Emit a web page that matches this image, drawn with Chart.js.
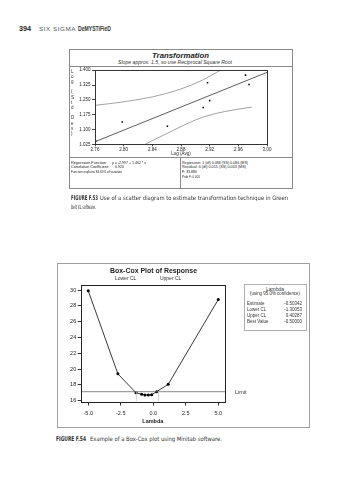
<!DOCTYPE html>
<html>
<head>
<meta charset="utf-8">
<script src="https://cdn.jsdelivr.net/npm/chart.js@4.4.0/dist/chart.umd.min.js"></script>
<style>
  html, body { margin: 0; padding: 0; background: #fff; }
  body { width: 364px; height: 480px; position: relative; overflow: hidden;
         font-family: "Liberation Sans", Arial, sans-serif; color: #222; }
  .t { position: absolute; white-space: nowrap; line-height: 1; transform-origin: 0 50%; }
  .box { position: absolute; box-sizing: border-box; }
  .hl { position: absolute; height: 0; border-top: 1px solid #8a8a8a; }
  .vl { position: absolute; width: 0; border-left: 1px solid #8a8a8a; }
  canvas { position: absolute; }
</style>
</head>
<body>

<!-- figure F.53 frame -->
<div class="box" style="left:69px;top:49px;width:224px;height:140px;border:1px solid #8a8a8a;"></div>
<div class="hl" style="left:69px;top:66px;width:224px;"></div>
<div class="hl" style="left:69px;top:157px;width:224px;"></div>
<div class="vl" style="left:180px;top:157px;height:31px;"></div>
<canvas id="transChart" width="223" height="91" style="left:69px;top:66px;"></canvas>

<!-- figure F.54 frame -->
<div class="box" style="left:57px;top:263px;width:253px;height:165px;border:1px solid #a0a0a0;"></div>
<div class="box" style="left:244px;top:284px;width:63px;height:47px;border:1px solid #b0b0b0;"></div>
<canvas id="boxCoxChart" width="200" height="158" style="left:60px;top:272px;"></canvas>

<script>
// ---- transformation scatter (Log Avg vs Log Std Dev) ----
const logAvg = [2.761, 2.798, 2.861, 2.917, 2.911, 2.920, 2.970, 2.975];
const logStd = [1.042, 1.138, 1.116, 1.336, 1.211, 1.246, 1.375, 1.328];
const fitX = [2.76, 3.00];
const fitY = [1.038, 1.389];
const upperX = [2.76, 2.80, 2.84, 2.88, 2.91, 2.935];
const upperY = [1.222, 1.240, 1.265, 1.305, 1.350, 1.400];
const lowerX = [2.830, 2.870, 2.911, 2.972, 2.979];
const lowerY = [1.025, 1.097, 1.163, 1.210, 1.213];
const transXTicks = [2.76, 2.80, 2.84, 2.88, 2.92, 2.96, 3.00];
const transYTicks = [1.025, 1.100, 1.175, 1.250, 1.325, 1.400];

// ---- Box-Cox plot ----
const lambdaVals = [-5.0, -2.72, -1.33, -0.89, -0.64, -0.38, -0.12, 0.26, 1.15, 5.0];
const stdevVals = [29.9, 19.4, 17.0, 16.81, 16.72, 16.72, 16.76, 17.14, 18.07, 28.8];
const limitVal = 17.14;
const lowerCL = -1.30;
const upperCL = 0.40;
const lambdaMin = -5.58, lambdaMax = 5.52;
const stdevMin = 15.9, stdevMax = 30.7;
const lambdaTicks = [-5.0, -2.5, 0.0, 2.5, 5.0];
const stdevTicks = [16, 18, 20, 22, 24, 26, 28, 30];

const pts = (xs, ys) => xs.map((x, i) => ({ x: x, y: ys[i] }));

Chart.defaults.font.family = '"Liberation Sans", Arial, sans-serif';
Chart.defaults.color = '#222';

const frame = {
  id: 'frame',
  afterDraw(chart, args, opts) {
    const { ctx, chartArea: a } = chart;
    ctx.save();
    ctx.strokeStyle = opts.color || '#222';
    ctx.lineWidth = 1;
    ctx.strokeRect(Math.round(a.left) + 0.5, Math.round(a.top) + 0.5,
                   Math.round(a.right - a.left), Math.round(a.bottom - a.top));
    ctx.restore();
  }
};

// CL / Limit labels sit at the positions of their values
const clLabels = {
  id: 'clLabels',
  afterDraw(chart) {
    if (chart.canvas.id !== 'boxCoxChart') return;
    const { ctx, chartArea: a, scales } = chart;
    ctx.save();
    ctx.fillStyle = '#333';
    ctx.font = '5px "Liberation Sans", Arial, sans-serif';
    ctx.textBaseline = 'middle';
    ctx.textAlign = 'right';
    ctx.fillText('Lower CL', scales.x.getPixelForValue(lowerCL), a.top - 5.5);
    ctx.textAlign = 'left';
    ctx.fillText('Upper CL', scales.x.getPixelForValue(upperCL) + 1.5, a.top - 5.5);
    ctx.font = '5.5px "Liberation Sans", Arial, sans-serif';
    ctx.fillText('Limit', a.right + 10, scales.y.getPixelForValue(limitVal) + 0.5);
    ctx.restore();
  }
};

new Chart(document.getElementById('transChart'), {
  type: 'scatter',
  data: {
    datasets: [
      { data: pts(upperX, upperY), showLine: true, pointRadius: 0, borderColor: '#8a8a8a',
        borderWidth: 0.8, cubicInterpolationMode: 'monotone' },
      { data: pts(lowerX, lowerY), showLine: true, pointRadius: 0, borderColor: '#8a8a8a',
        borderWidth: 0.8, cubicInterpolationMode: 'monotone' },
      { data: pts(fitX, fitY), showLine: true, pointRadius: 0, borderColor: '#333', borderWidth: 0.8 },
      { data: pts(logAvg, logStd), pointStyle: 'rect', pointRadius: 1.1,
        backgroundColor: '#000', borderWidth: 0 }
    ]
  },
  options: {
    responsive: false, devicePixelRatio: 1, animation: false,
    layout: { padding: { left: 0, right: 25, top: 3.3, bottom: 0 } },
    plugins: { legend: { display: false }, tooltip: { enabled: false }, frame: { color: '#333' } },
    scales: {
      x: {
        type: 'linear', min: 2.76, max: 3.00,
        afterBuildTicks: s => { s.ticks = transXTicks.map(v => ({ value: v })); },
        afterFit: s => { s.height = 12.7; },
        grid: { drawOnChartArea: false, tickLength: 2, color: '#444' },
        border: { display: false },
        ticks: { font: { size: 4.5 }, padding: 0.5, maxRotation: 0, autoSkip: false,
                 callback: v => v.toFixed(2) },
        title: { display: true, text: 'Log (Avg)', font: { size: 4.5 }, padding: { top: 0, bottom: 0.8 } }
      },
      y: {
        type: 'linear', min: 1.025, max: 1.400,
        afterBuildTicks: s => { s.ticks = transYTicks.map(v => ({ value: v })); },
        afterFit: s => { s.width = 26; },
        grid: { drawOnChartArea: false, tickLength: 3, color: '#444' },
        border: { display: false },
        ticks: { font: { size: 4.5 }, padding: 1.5, autoSkip: false, callback: v => v.toFixed(3) }
      }
    }
  },
  plugins: [frame]
});

new Chart(document.getElementById('boxCoxChart'), {
  type: 'scatter',
  data: {
    datasets: [
      { data: pts([lowerCL, lowerCL], [stdevMin, limitVal]), showLine: true, pointRadius: 0,
        borderColor: '#c4c4c4', borderWidth: 0.8 },
      { data: pts([upperCL, upperCL], [stdevMin, limitVal]), showLine: true, pointRadius: 0,
        borderColor: '#c4c4c4', borderWidth: 0.8 },
      { data: pts([lambdaMin, lambdaMax], [limitVal, limitVal]), showLine: true, pointRadius: 0,
        borderColor: '#6a6a6a', borderWidth: 0.8 },
      { data: pts(lambdaVals, stdevVals), showLine: true, borderColor: '#222', borderWidth: 0.9,
        pointRadius: 1.5, pointBackgroundColor: '#000', pointBorderWidth: 0 }
    ]
  },
  options: {
    responsive: false, devicePixelRatio: 1, animation: false,
    layout: { padding: { left: 0, right: 35, top: 12.5, bottom: 0 } },
    plugins: { legend: { display: false }, tooltip: { enabled: false }, frame: { color: '#222' } },
    scales: {
      x: {
        type: 'linear', min: lambdaMin, max: lambdaMax,
        afterBuildTicks: s => { s.ticks = lambdaTicks.map(v => ({ value: v })); },
        afterFit: s => { s.height = 28.5; },
        grid: { drawOnChartArea: false, tickLength: 4, color: '#333' },
        border: { display: false },
        ticks: { font: { size: 5.5 }, padding: 4.5, maxRotation: 0, autoSkip: false,
                 callback: v => v.toFixed(1) },
        title: { display: true, text: 'Lambda', font: { size: 5.5, weight: 'bold' },
                 padding: { top: 0, bottom: 5.7 } }
      },
      y: {
        type: 'linear', min: stdevMin, max: stdevMax,
        afterBuildTicks: s => { s.ticks = stdevTicks.map(v => ({ value: v })); },
        afterFit: s => { s.width = 20.7; },
        grid: { drawOnChartArea: false, tickLength: 3, color: '#333' },
        border: { display: false },
        ticks: { font: { size: 5.5 }, padding: 1.5, autoSkip: false }
      }
    }
  },
  plugins: [frame, clLabels]
});

// ---- page text ----
function label(txt, x, y, fs, w, css) {
  const el = document.createElement('div');
  el.className = 't';
  el.textContent = txt;
  el.style.cssText += 'left:' + x + 'px;top:' + (y - 0.52 * fs) + 'px;font-size:' + fs + 'px;' + (css || '');
  document.body.appendChild(el);
  if (w) {
    const real = el.getBoundingClientRect().width;
    el.style.transform = 'scaleX(' + (w / real) + ')';
  }
  return el;
}
const cond = 'font-family:"DejaVu Sans Condensed","DejaVu Sans",sans-serif;';

label('394', 19, 29, 7, 12, 'font-weight:bold;');
label('SIX SIGMA', 39, 29, 6, 37, 'color:#555;letter-spacing:0.5px;');
label('DeMYSTiFieD', 78, 29, 6.5, 33, 'font-weight:bold;color:#333;');

label('Transformation', 152, 56, 7.6, 57, 'font-weight:bold;font-style:italic;');
label('Slope approx. 1.5, so use Reciprocal Square Root', 118, 63.3, 4.8, 114, 'font-style:italic;color:#333;');
'Log (Std Dev)'.split('').forEach((c, i) => {
  if (c !== ' ') label(c, 71, 72 + i * 5.2, 4.5, 0, 'color:#333;');
});
label('Regression Function:', 71, 162.7, 4, 36);
label('y = -2.997 + 1.462 * x', 112, 162.7, 4, 34);
label('Correlation Coefficient:', 71, 167.5, 4, 38);
label('0.920', 115, 167.5, 4, 9);
label('Function explains 84.65% of variation', 71, 172.3, 4, 51);
label('Regression: 1 (df) 0.086 (SS) 0.086 (MS)', 182, 162.7, 4, 66);
label('Residual: 6 (df) 0.015 (SS) 0.003 (MS)', 182, 167.5, 4, 64);
label('F: 33.880', 182, 172.3, 4, 15);
label('Prob F: 0.001', 182, 177.3, 4, 18);

label('FIGURE F.53', 71, 198.3, 6.5, 27, cond + 'font-weight:bold;color:#333;');
label('Use of a scatter diagram to estimate transformation technique in Green', 100, 198.3, 6, 188, cond + 'color:#333;');
label('Belt XL software.', 71, 207.3, 6, 25, cond + 'color:#333;');

label('Box-Cox Plot of Response', 110, 270.7, 7, 87, 'font-weight:bold;');
label('Lambda', 266, 290, 4.5, 18, 'color:#333;');
label('(using 95.0% confidence)', 250, 294.3, 4.5, 50, 'color:#333;');
[['Estimate', '-0.50342', 304], ['Lower CL', '-1.30053', 310],
 ['Upper CL', '0.40287', 316], ['Best Value', '-0.50000', 322]].forEach(r => {
  label(r[0], 247, r[2], 4.5, 0, 'color:#333;');
  const v = label(r[1], 0, r[2], 4.5, 0, 'color:#333;');
  v.style.left = (302 - v.getBoundingClientRect().width) + 'px';
});

label('FIGURE F.54', 56, 439.3, 6.5, 30, cond + 'font-weight:bold;color:#333;');
label('Example of a Box-Cox plot using Minitab software.', 90, 439.3, 6, 132, cond + 'color:#333;');
</script>
</body>
</html>
